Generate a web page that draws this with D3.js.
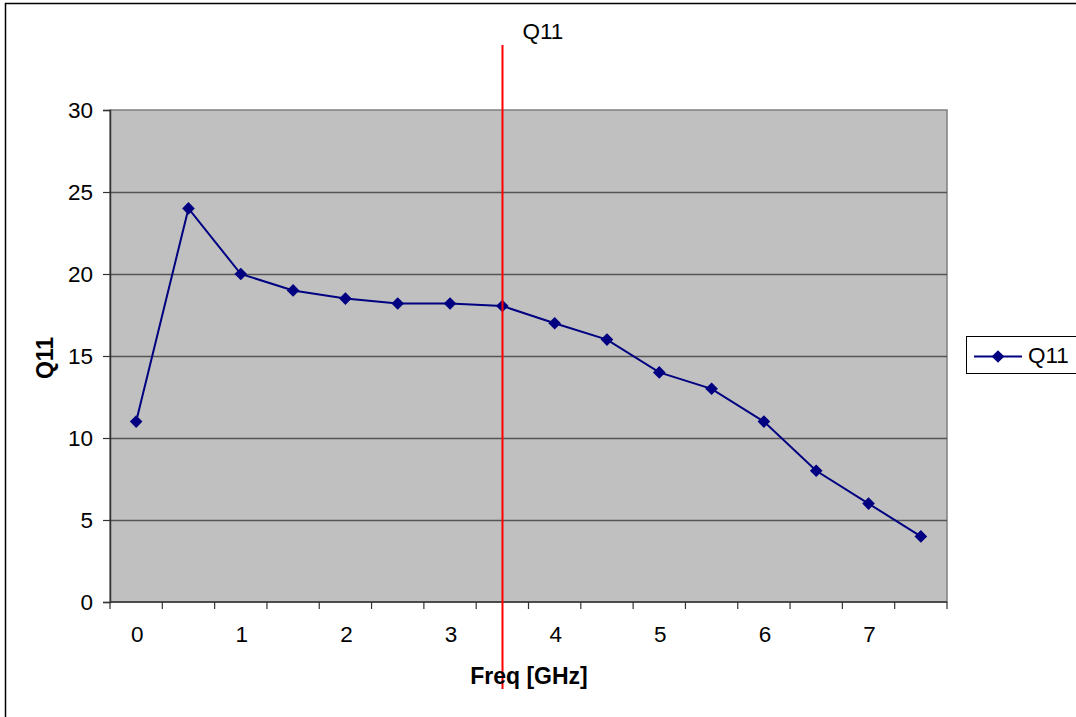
<!DOCTYPE html>
<html>
<head>
<meta charset="utf-8">
<script src="https://cdn.jsdelivr.net/npm/d3@7"></script>
<style>
  body { margin: 0; background: #fff; }
  svg { display: block; font-family: "Liberation Sans", Arial, sans-serif; }
  svg text { font-size: 22.5px; fill: #000; }
  svg text.bold { font-weight: bold; font-size: 23px; }
</style>
</head>
<body>
<svg width="1076" height="717"></svg>
<script>
const svg = d3.select('svg');

// data
const freqs = ['0', '0.5', '1', '1.5', '2', '2.5', '3', '3.5', '4', '4.5', '5', '5.5', '6', '6.5', '7', '7.5'];
const q11 = [11, 24, 20, 19, 18.5, 18.2, 18.2, 18.05, 17, 16, 14, 13, 11, 8, 6, 4];
const yTicks = [0, 5, 10, 15, 20, 25, 30];
const markerFreq = '3.5';
const seriesName = 'Q11';

const margin = { top: 110, left: 110 };
const innerWidth = 947 - 110;
const innerHeight = 602 - 110;

// outer chart frame (runs past the window on right/bottom)
svg.append('rect')
    .attr('x', 5.5).attr('y', 3.5)
    .attr('width', 1200).attr('height', 800)
    .attr('fill', '#fff')
    .attr('stroke', '#000')
    .attr('stroke-width', 1.5);

const g = svg.append('g')
    .attr('transform', `translate(${margin.left}, ${margin.top})`);

const xScale = d3.scaleBand()
    .domain(freqs)
    .range([0, innerWidth]);

const yScale = d3.scaleLinear()
    .domain([0, 30])
    .range([innerHeight, 0]);

// plot area
g.append('rect')
    .attr('width', innerWidth)
    .attr('height', innerHeight)
    .attr('fill', '#c0c0c0')
    .attr('stroke', '#808080')
    .attr('stroke-width', 1.5);

// gridlines
g.selectAll('.grid').data(yTicks.slice(1, -1))
    .enter().append('line')
        .attr('x1', 0).attr('x2', innerWidth)
        .attr('y1', d => Math.round(yScale(d)) + 0.5)
        .attr('y2', d => Math.round(yScale(d)) + 0.5)
        .attr('stroke', '#555')
        .attr('stroke-width', 1.3);

// y axis
const yAxis = d3.axisLeft(yScale)
    .tickValues(yTicks)
    .tickSize(7)
    .tickPadding(10);

const yAxisG = g.append('g').call(yAxis);
yAxisG.attr('font-size', null);
yAxisG.select('.domain').attr('stroke', '#333').attr('stroke-width', 1.5);
yAxisG.selectAll('.tick line').attr('stroke', '#333').attr('stroke-width', 1.2);

svg.append('text')
    .attr('class', 'bold')
    .attr('text-anchor', 'middle')
    .attr('transform', 'translate(53, 358) rotate(-90)')
    .text(seriesName);

// x axis: ticks between categories, labels on whole numbers
const xAxisG = g.append('g')
    .attr('transform', `translate(0, ${innerHeight})`);

xAxisG.append('line')
    .attr('x1', 0).attr('x2', innerWidth)
    .attr('stroke', '#333').attr('stroke-width', 1.5);

const edges = freqs.map(d => xScale(d)).concat([innerWidth]);
xAxisG.selectAll('.xtick').data(edges)
    .enter().append('line')
        .attr('x1', d => d).attr('x2', d => d)
        .attr('y1', 0).attr('y2', 7)
        .attr('stroke', '#333').attr('stroke-width', 1.2);

xAxisG.selectAll('.xlabel').data(freqs.filter(d => +d % 1 === 0))
    .enter().append('text')
        .attr('x', d => xScale(d) + xScale.bandwidth() / 2 + 1)
        .attr('y', 40)
        .attr('text-anchor', 'middle')
        .text(d => d);

svg.append('text')
    .attr('class', 'bold')
    .attr('x', 529)
    .attr('y', 684)
    .attr('text-anchor', 'middle')
    .text('Freq [GHz]');

// series
const xPos = d => xScale(d) + xScale.bandwidth() / 2;
const line = d3.line()
    .x((d, i) => xPos(freqs[i]))
    .y(d => yScale(d));

g.append('path')
    .datum(q11)
    .attr('d', line)
    .attr('fill', 'none')
    .attr('stroke', '#000080')
    .attr('stroke-width', 2);

const marker = d3.symbol().type(d3.symbolSquare).size(80);
g.selectAll('.pt').data(q11)
    .enter().append('path')
        .attr('transform', (d, i) => `translate(${xPos(freqs[i])}, ${yScale(d)}) rotate(45)`)
        .attr('d', marker)
        .attr('fill', '#000080');

// red marker line
const mx = Math.round(xPos(markerFreq)) + 0.5;
g.append('line')
    .attr('x1', mx).attr('x2', mx)
    .attr('y1', 45 - margin.top)
    .attr('y2', 689 - margin.top)
    .attr('stroke', '#ff0000')
    .attr('stroke-width', 2);

g.append('text')
    .attr('x', mx + 20)
    .attr('y', 39 - margin.top)
    .text(seriesName);

// legend
const lg = svg.append('g').attr('transform', 'translate(966, 336)');
lg.append('rect')
    .attr('x', 0.5).attr('y', 0.5)
    .attr('width', 130).attr('height', 37)
    .attr('fill', '#fff')
    .attr('stroke', '#000')
    .attr('stroke-width', 1);
lg.append('line')
    .attr('x1', 8).attr('x2', 56)
    .attr('y1', 20.5).attr('y2', 20.5)
    .attr('stroke', '#000080')
    .attr('stroke-width', 2);
lg.append('path')
    .attr('transform', 'translate(32, 20.5) rotate(45)')
    .attr('d', marker)
    .attr('fill', '#000080');
lg.append('text')
    .attr('x', 62)
    .attr('y', 27)
    .text(seriesName);
</script>
</body>
</html>
